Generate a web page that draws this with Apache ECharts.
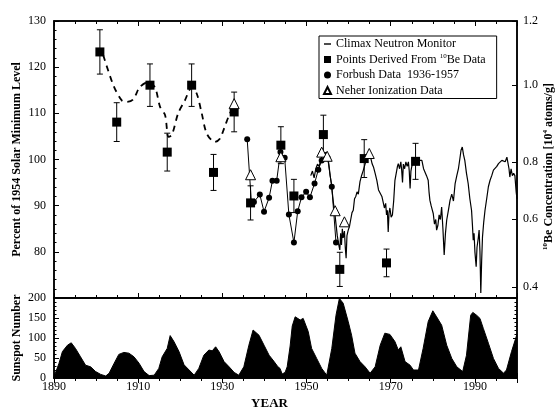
<!DOCTYPE html>
<html>
<head>
<meta charset="utf-8">
<script src="https://cdn.jsdelivr.net/npm/echarts@6/dist/echarts.min.js"></script>
<style>
html, body { margin: 0; padding: 0; background: #fff; }
#main { width: 559px; height: 409px; }
</style>
</head>
<body>
<div id="main"></div>
<script>
// Climax neutron monitor (percent of 1954 solar minimum)
var climaxYears = [1951.0,1951.4,1951.8,1952.2,1952.6,1953.0,1953.4,1953.8,1954.2,1954.6,1955.0,1955.3,1955.6,1955.9,1956.1,1956.4,1956.7,1957.0,1957.3,1957.6,1957.9,1958.1,1958.3,1958.5,1958.7,1959.0,1959.2,1959.4,1959.6,1959.9,1960.2,1960.5,1960.8,1961.1,1961.4,1961.7,1962.0,1962.3,1962.7,1963.1,1963.5,1963.9,1964.3,1964.6,1964.9,1965.2,1965.6,1965.9,1966.3,1966.7,1967.1,1967.5,1967.9,1968.2,1968.5,1968.8,1969.0,1969.2,1969.4,1969.6,1969.8,1970.1,1970.4,1970.7,1971.0,1971.3,1971.6,1971.8,1972.1,1972.4,1972.6,1972.8,1973.0,1973.3,1973.6,1973.9,1974.2,1974.4,1974.6,1974.8,1975.0,1975.4,1975.8,1976.1,1976.4,1976.8,1977.1,1977.4,1977.8,1978.1,1978.5,1978.9,1979.1,1979.3,1979.6,1979.9,1980.1,1980.4,1980.7,1980.9,1981.2,1981.5,1981.8,1982.1,1982.4,1982.7,1983.0,1983.3,1983.7,1984.1,1984.5,1984.9,1985.3,1985.7,1986.1,1986.4,1986.7,1987.0,1987.3,1987.6,1988.0,1988.4,1988.8,1989.2,1989.4,1989.6,1989.8,1990.0,1990.3,1990.5,1990.8,1991.0,1991.2,1991.4,1991.6,1991.8,1992.1,1992.4,1992.8,1993.2,1993.6,1994.0,1994.4,1994.8,1995.2,1995.6,1996.0,1996.4,1996.8,1997.2,1997.6,1997.9,1998.1,1998.3,1998.6,1998.9,1999.2,1999.5,1999.8,2000.0];
var climaxVals = [96.5,97.5,96.0,98.0,99.0,98.5,100.0,101.0,101.5,101.0,100.5,99.0,96.5,94.8,93.0,90.5,88.5,86.0,83.5,81.8,80.4,84.0,81.5,85.0,83.0,84.5,81.0,78.6,83.5,84.7,85.5,87.0,88.5,89.0,91.5,92.0,93.0,92.5,95.2,96.6,97.7,99.0,100.2,100.8,101.6,100.5,99.0,98.4,97.0,95.5,93.4,93.0,92.0,91.9,89.5,90.5,88.0,89.0,84.3,88.5,89.5,87.5,88.0,91.0,95.5,97.0,98.5,99.1,98.0,99.5,97.7,95.0,99.0,98.0,99.5,98.5,99.5,97.5,93.7,97.5,98.5,99.5,100.2,99.5,100.3,99.8,100.0,99.8,98.0,97.7,96.5,95.5,93.0,91.2,90.0,89.0,88.3,86.0,87.0,84.7,85.7,88.0,87.0,89.7,85.0,79.3,84.0,86.9,89.0,91.2,92.5,91.0,94.8,96.5,98.1,100.0,102.0,102.7,101.0,99.8,97.0,94.8,91.5,89.0,86.0,82.5,84.0,80.0,76.8,81.0,83.0,84.7,80.0,71.1,78.0,83.2,86.5,89.0,91.5,94.1,95.5,96.5,97.7,98.0,98.5,99.1,99.5,99.8,100.0,99.5,100.5,100.4,98.0,96.2,98.0,96.5,97.0,96.5,93.0,91.5];

// Dashed extension derived before 1936
var reconYears = [1901.7,1904.1,1906.1,1907.3,1908.8,1910.4,1912.4,1914.0,1915.2,1916.4,1917.2,1918.0,1919.5,1921.1,1922.7,1923.9,1925.1,1926.3,1928.2,1929.4,1930.4,1931.6,1932.6];
var reconVals = [122.6,116.1,112.8,112.5,113.0,115.7,116.8,115.6,111.4,109.6,104.9,105.3,110.0,112.8,115.6,114.3,110.0,105.6,103.8,104.5,106.7,109.6,111.4];

// Points derived from 10Be data, with error half-widths
var beYears = [1900.9,1904.9,1912.8,1916.9,1922.7,1927.9,1932.8,1936.7,1943.9,1947.0,1954.0,1957.9,1963.7,1969.0,1975.9];
var beVals = [123.3,108.1,116.1,101.6,116.1,97.2,110.3,90.6,103.1,92.1,105.4,76.2,100.2,77.6,99.6];
var beErr = [4.8,4.2,4.6,4.1,4.6,3.9,4.3,3.7,4.0,3.6,4.2,3.7,4.1,3.0,3.9];

// Forbush data 1936-1957
var forbushYears = [1935.9,1936.9,1937.5,1938.9,1939.9,1941.1,1941.9,1942.9,1943.8,1944.8,1945.8,1947.0,1947.9,1948.8,1949.9,1950.8,1951.9,1952.8,1953.6,1954.4,1955.0,1956.0,1957.0];
var forbushVals = [104.4,90.6,90.8,92.4,88.7,91.7,95.4,95.4,101.6,100.4,88.1,82.0,88.8,91.8,93.0,91.8,94.8,97.8,99.8,101.0,100.4,94.1,82.0];

// Neher ionization data
var neherYears = [1932.8,1936.7,1943.9,1953.6,1954.9,1956.8,1959.0,1964.9];
var neherVals = [112.1,96.7,100.6,101.6,100.7,88.9,86.5,101.3];

// Sunspot number
var sunYears = [1890,1890.4,1891.2,1892.0,1893.2,1894.1,1895.1,1896.3,1897.5,1898.7,1899.9,1901.1,1902.3,1903.1,1904.3,1905.4,1906.6,1907.8,1909.0,1910.2,1911.4,1912.6,1913.8,1914.9,1915.7,1916.9,1917.6,1918.5,1919.7,1920.9,1922.1,1923.3,1924.4,1925.6,1926.8,1927.6,1928.4,1929.2,1930.4,1931.6,1932.8,1933.9,1935.1,1936.3,1937.3,1938.7,1939.9,1941.1,1942.3,1943.2,1943.7,1944.2,1944.9,1945.4,1946.1,1946.6,1947.3,1948.5,1949.2,1950.4,1951.2,1952.4,1953.6,1954.8,1956.0,1957.0,1957.8,1958.7,1959.9,1960.7,1961.5,1962.7,1963.9,1965.1,1966.3,1967.5,1968.6,1969.8,1971.0,1971.8,1972.4,1973.4,1974.6,1975.4,1976.6,1977.7,1978.9,1980.0,1980.9,1982.1,1983.3,1984.5,1985.7,1987.1,1988.0,1989.0,1989.5,1990.4,1991.2,1992.0,1993.2,1994.4,1995.6,1996.8,1997.5,1998.7,1999.8,2000];
var sunVals = [3,7.5,37,66,82,88,74,53,32,28,16,9,5,12,37,59,64,62,53,37,16,6,7,24,53,74,106,91,66,33,20,7,24,57,70,68,78,66,41,28,14,7,28,82,120,107,82,57,41,28,24,10,14,28,80,130,153,145,149,116,74,49,24,7,74,157,199,187,141,107,62,41,28,12,28,82,112,109,91,70,78,41,32,20,20,74,141,168,153,132,82,49,28,16,57,157,164,157,149,124,87,49,24,12,20,66,103,110];

// Right axis (10Be concentration) tick labels and their places on the percent scale
var beTickLabels = ['1.2','1.0','0.8','0.6','0.4'];
var beTickPos = [130,116.1,99.5,87.1,72.4];

function zip(a, b, c) {
  return a.map(function (v, i) { return c ? [v, b[i], c[i]] : [v, b[i]]; });
}

var serif = "'Liberation Serif', 'Times New Roman', serif";
var black = '#000';

function renderErr(params, api) {
  var x = api.value(0), y = api.value(1), e = api.value(2);
  var hi = api.coord([x, y + e]);
  var lo = api.coord([x, y - e]);
  var st = { stroke: black, lineWidth: 1 };
  return {
    type: 'group',
    children: [
      { type: 'line', shape: { x1: hi[0], y1: hi[1], x2: lo[0], y2: lo[1] }, style: st },
      { type: 'line', shape: { x1: hi[0] - 3, y1: hi[1], x2: hi[0] + 3, y2: hi[1] }, style: st },
      { type: 'line', shape: { x1: lo[0] - 3, y1: lo[1], x2: lo[0] + 3, y2: lo[1] }, style: st }
    ]
  };
}

function xAx(grid, pos, labels, major) {
  return {
    gridIndex: grid, type: 'value', position: pos, min: 1890, max: 2000, interval: 20,
    axisLine: { show: true, lineStyle: { color: black, width: 1.5 } },
    axisTick: { show: true, inside: true, length: major, lineStyle: { color: black } },
    minorTick: { show: true, splitNumber: 4, length: 3, lineStyle: { color: black } },
    splitLine: { show: false },
    axisLabel: { show: labels, color: black, fontFamily: serif, fontSize: 12, margin: 3,
      formatter: function (v) { return v === 2000 ? '' : String(v); } }
  };
}

var chart = echarts.init(document.getElementById('main'));

var option = {
  animation: false,
  backgroundColor: '#fff',
  grid: [
    { left: 54, right: 42, top: 21, height: 277, show: true, borderColor: black, borderWidth: 1.5, outerBoundsMode: 'none' },
    { left: 54, right: 42, top: 298, height: 80, show: true, borderColor: black, borderWidth: 1.5, outerBoundsMode: 'none' }
  ],
  legend: {
    left: 319, top: 36, orient: 'vertical',
    padding: [1, 11, 1, 4],
    borderColor: black, borderWidth: 1,
    itemGap: 1.5, itemWidth: 7, itemHeight: 7,
    textStyle: {
      color: black, fontFamily: serif, fontSize: 12, lineHeight: 14,
      rich: {
        n: { fontFamily: serif, fontSize: 12, color: black, lineHeight: 14 },
        s: { fontFamily: serif, fontSize: 7, color: black, verticalAlign: 'top', padding: [0, 0, 6, 0] }
      }
    },
    formatter: function (name) {
      if (name.indexOf('10Be') >= 0) return '{n|Points Derived From }{s|10}{n|Be Data}';
      return name;
    },
    data: [
      { name: 'Climax Neutron Monitor', icon: 'path://M0,0H6V1.2H0Z' },
      { name: 'Points Derived From 10Be Data', icon: 'rect' },
      { name: 'Forbush Data  1936-1957', icon: 'circle' },
      { name: 'Neher Ionization Data', icon: 'triangle' }
    ]
  },
  xAxis: [
    xAx(0, 'bottom', false, 5),
    xAx(0, 'top', false, 5),
    Object.assign(xAx(1, 'bottom', true, 5), {
      name: 'YEAR', nameLocation: 'middle', nameGap: 19,
      nameTextStyle: { color: black, fontFamily: serif, fontSize: 13, fontWeight: 'bold', padding: [0, 32, 0, 0] }
    }),
    xAx(1, 'top', false, 5)
  ],
  yAxis: [
    {
      gridIndex: 0, type: 'value', position: 'left', min: 70, max: 130, interval: 10,
      axisLine: { show: true, lineStyle: { color: black, width: 1.5 } },
      axisTick: { inside: true, length: 5, lineStyle: { color: black } },
      minorTick: { show: true, splitNumber: 5, length: 2.5, lineStyle: { color: black } },
      splitLine: { show: false },
      axisLabel: { color: black, fontFamily: serif, fontSize: 12, margin: 8,
        formatter: function (v) { return v === 70 ? '' : v; } },
      name: 'Percent of 1954 Solar Minimum Level', nameLocation: 'middle', nameGap: 31, nameMoveOverlap: false,
      nameTextStyle: { color: black, fontFamily: serif, fontSize: 12, fontWeight: 'bold' }
    },
    {
      gridIndex: 0, type: 'value', position: 'right', min: 70, max: 130,
      axisLine: { show: true, lineStyle: { color: black, width: 1.5 } },
      axisTick: { inside: true, length: 5, customValues: beTickPos, lineStyle: { color: black } },
      splitLine: { show: false },
      axisLabel: { color: black, fontFamily: serif, fontSize: 12, margin: 6, customValues: beTickPos,
        formatter: function (v) {
          var i = beTickPos.indexOf(v);
          return i >= 0 ? beTickLabels[i] : '';
        } },
      name: '{s|10}Be Concentration [10{s|4} atoms/g]', nameLocation: 'middle', nameGap: 25, nameRotate: 90,
      nameMoveOverlap: false,
      nameTextStyle: {
        color: black, fontFamily: serif, fontSize: 12, fontWeight: 'bold', padding: [0, 14, 0, 0],
        rich: { s: { fontFamily: serif, fontSize: 7, fontWeight: 'bold', color: black, verticalAlign: 'top', padding: [0, 0, 6, 0] } }
      }
    },
    {
      gridIndex: 1, type: 'value', position: 'left', min: 0, max: 200, interval: 50,
      axisLine: { show: true, lineStyle: { color: black, width: 1.5 } },
      axisTick: { inside: true, length: 5, lineStyle: { color: black } },
      minorTick: { show: true, splitNumber: 5, length: 2.5, lineStyle: { color: black } },
      splitLine: { show: false },
      axisLabel: { color: black, fontFamily: serif, fontSize: 12, margin: 8 },
      name: 'Sunspot Number', nameLocation: 'middle', nameGap: 31, nameMoveOverlap: false,
      nameTextStyle: { color: black, fontFamily: serif, fontSize: 12, fontWeight: 'bold' }
    },
    {
      gridIndex: 1, type: 'value', position: 'right', min: 0, max: 200, interval: 50,
      axisLine: { show: true, lineStyle: { color: black, width: 1.5 } },
      axisTick: { inside: true, length: 4, lineStyle: { color: black } },
      minorTick: { show: true, splitNumber: 5, length: 2.5, lineStyle: { color: black } },
      splitLine: { show: false },
      axisLabel: { show: false }
    }
  ],
  series: [
    {
      name: 'Sunspot Number', type: 'line', xAxisIndex: 2, yAxisIndex: 2,
      data: zip(sunYears, sunVals), symbol: 'none',
      lineStyle: { color: black, width: 1 },
      areaStyle: { color: black, opacity: 1 }
    },
    {
      name: 'Climax Neutron Monitor', type: 'line', xAxisIndex: 0, yAxisIndex: 0,
      data: zip(climaxYears, climaxVals), symbol: 'none',
      itemStyle: { color: black },
      lineStyle: { color: black, width: 1.2 }, z: 3
    },
    {
      name: 'Climax (derived)', type: 'line', xAxisIndex: 0, yAxisIndex: 0,
      data: zip(reconYears, reconVals), symbol: 'none', smooth: 0.3,
      lineStyle: { color: black, width: 1.8, type: [6, 5] }, z: 3
    },
    {
      name: 'Forbush Data  1936-1957', type: 'line', xAxisIndex: 0, yAxisIndex: 0,
      data: zip(forbushYears, forbushVals), symbol: 'circle', symbolSize: 6,
      itemStyle: { color: black }, lineStyle: { color: black, width: 1 }, z: 4
    },
    {
      name: 'Be error', type: 'custom', xAxisIndex: 0, yAxisIndex: 0,
      data: zip(beYears, beVals, beErr), renderItem: renderErr,
      encode: { x: 0, y: 1 }, z: 4
    },
    {
      name: 'Points Derived From 10Be Data', type: 'scatter', xAxisIndex: 0, yAxisIndex: 0,
      data: zip(beYears, beVals), symbol: 'rect', symbolSize: 9,
      itemStyle: { color: black, opacity: 1 }, z: 5
    },
    {
      name: 'Neher Ionization Data', type: 'scatter', xAxisIndex: 0, yAxisIndex: 0,
      data: zip(neherYears, neherVals), symbol: 'triangle', symbolSize: 10,
      itemStyle: { color: '#fff', borderColor: black, borderWidth: 1, opacity: 1 }, z: 6
    }
  ]
};

chart.setOption(option);
</script>
</body>
</html>
